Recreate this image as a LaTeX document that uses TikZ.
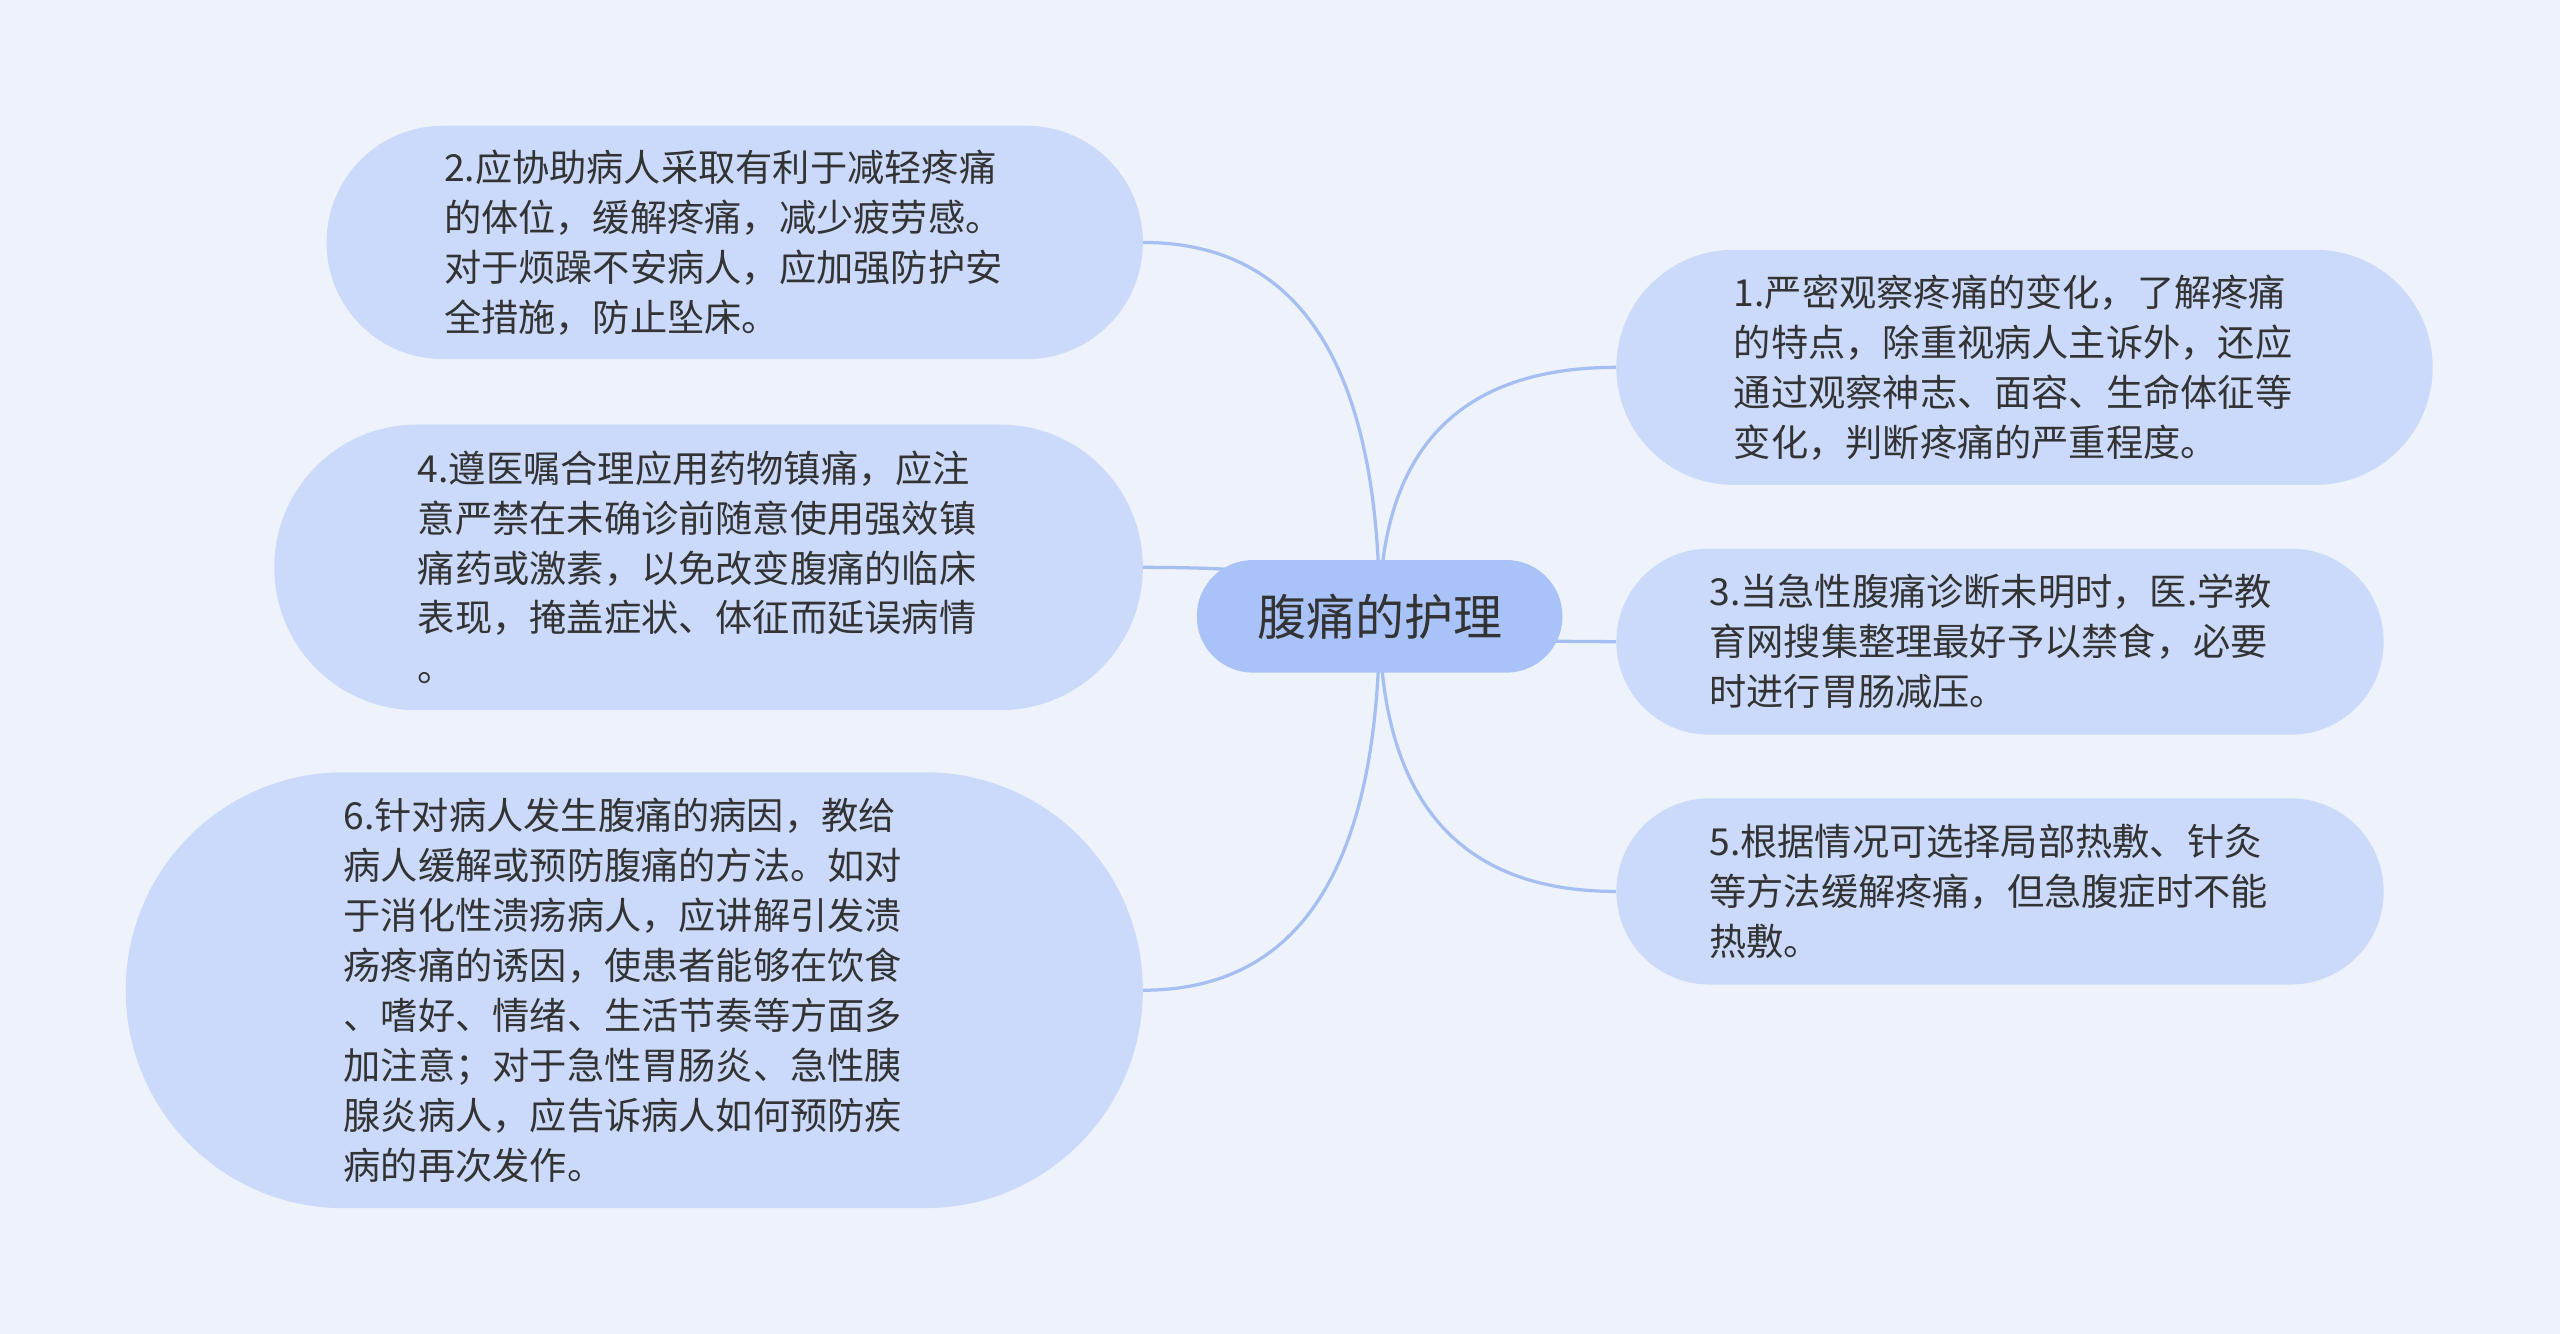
\documentclass[tikz,border=0pt]{standalone}
\usepackage{fontspec}
\newfontfamily\cjk{Noto Sans CJK SC}
\usetikzlibrary{calc,backgrounds}
\definecolor{bgcol}{HTML}{EEF3FB}
\definecolor{leafcol}{HTML}{CBDAFB}
\definecolor{rootcol}{HTML}{A9C3F8}
\definecolor{linkcol}{HTML}{A6BFF2}
\definecolor{txtcol}{HTML}{333333}

\begin{document}
\begin{tikzpicture}[x=1pt,y=-1pt,
  leaf/.style={fill=leafcol, text=txtcol, align=left, text width=356pt,
    font=\cjk\fontsize{22.8}{30.6}\selectfont},
  root/.style={fill=rootcol, text=txtcol, minimum width=224pt, minimum height=69pt,
    rounded corners=34.4pt, font=\cjk\fontsize{30}{36}\selectfont},
  link/.style={draw=linkcol, line width=2pt}]
\useasboundingbox (0,0) rectangle (1568,817);
% centre
\node[root] (root) at (845,377.5) {腹痛的护理};
% left side
\node[leaf, minimum width=500pt, minimum height=143pt, rounded corners=71.4pt] (n2) at (450,148.5)
  {2.应协助病人采取有利于减轻疼痛\\的体位，缓解疼痛，减少疲劳感。\\对于烦躁不安病人，应加强防护安\\全措施，防止坠床。};
\node[leaf, minimum width=532pt, minimum height=175pt, rounded corners=87.4pt] (n4) at (434,347.5)
  {4.遵医嘱合理应用药物镇痛，应注\\意严禁在未确诊前随意使用强效镇\\痛药或激素，以免改变腹痛的临床\\表现，掩盖症状、体征而延误病情\\。};
\node[leaf, minimum width=623pt, minimum height=267pt, rounded corners=133.4pt] (n6) at (388.5,606.5)
  {6.针对病人发生腹痛的病因，教给\\病人缓解或预防腹痛的方法。如对\\于消化性溃疡病人，应讲解引发溃\\疡疼痛的诱因，使患者能够在饮食\\、嗜好、情绪、生活节奏等方面多\\加注意；对于急性胃肠炎、急性胰\\腺炎病人，应告诉病人如何预防疾\\病的再次发作。};
% right side
\node[leaf, minimum width=500pt, minimum height=144pt, rounded corners=71.9pt] (n1) at (1240,225)
  {1.严密观察疼痛的变化，了解疼痛\\的特点，除重视病人主诉外，还应\\通过观察神志、面容、生命体征等\\变化，判断疼痛的严重程度。};
\node[leaf, minimum width=470pt, minimum height=114pt, rounded corners=56.9pt] (n3) at (1225,393)
  {3.当急性腹痛诊断未明时，医.学教\\育网搜集整理最好予以禁食，必要\\时进行胃肠减压。};
\node[leaf, minimum width=470pt, minimum height=114pt, rounded corners=56.9pt] (n5) at (1225,546)
  {5.根据情况可选择局部热敷、针灸\\等方法缓解疼痛，但急腹症时不能\\热敷。};
% links behind the nodes
\begin{pgfonlayer}{background}
\fill[bgcol] (0,0) rectangle (1568,817);
\foreach \leaf/\side in {n2/east, n4/east, n6/east, n1/west, n3/west, n5/west} {
  \coordinate (bend) at (root.center |- \leaf.\side);
  \draw[link] (root.center) .. controls ($(root.center)!0.667!(bend)$)
    and ($(\leaf.\side)!0.667!(bend)$) .. (\leaf.\side);
}
\end{pgfonlayer}
\end{tikzpicture}
\end{document}
